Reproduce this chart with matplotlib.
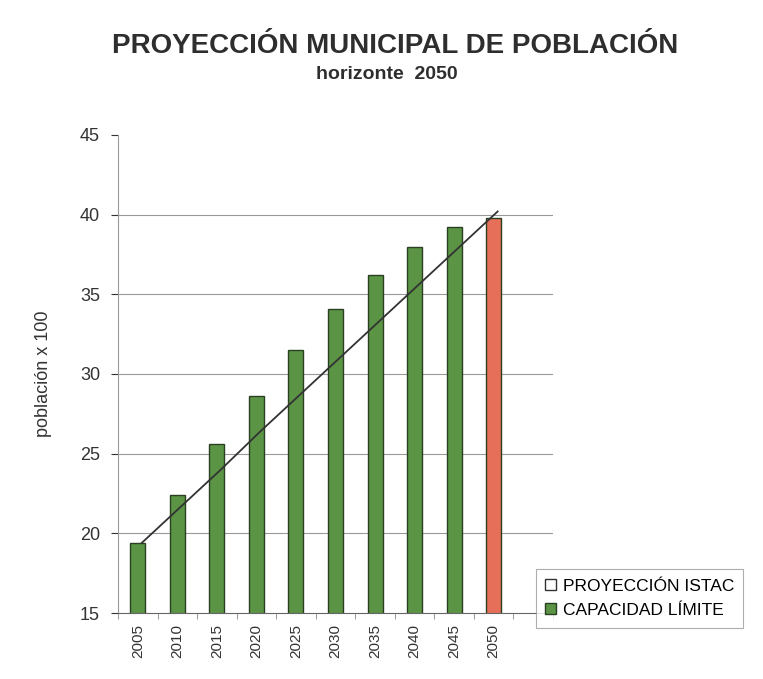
import matplotlib
matplotlib.use("Agg")
import matplotlib.pyplot as plt
from matplotlib.patches import Patch
import numpy as np

plt.rcParams['font.family'] = ['Liberation Sans', 'DejaVu Sans']

years = ["2005", "2010", "2015", "2020", "2025", "2030", "2035", "2040", "2045", "2050"]
capacidad = [19.4, 22.4, 25.6, 28.6, 31.5, 34.1, 36.2, 38.0, 39.2, 39.8]
proyeccion = [19.4, 21.7, 24.0, 26.4, 28.7, 31.0, 33.3, 35.6, 37.9, 40.2]

green = "#5a9444"
red = "#e56f58"
bar_colors = [green] * (len(years) - 1) + [red]

fig = plt.figure(figsize=(7.63, 6.79), dpi=100)
ax = fig.add_axes([0.1547, 0.0972, 0.5701, 0.704])

x = np.arange(len(years))
ax.bar(x, capacidad, width=0.38, bottom=0, color=bar_colors,
       edgecolor="#2b3f22", linewidth=1.0, zorder=2)
ax.plot(x + 0.1, proyeccion, color="#333333", linewidth=1.3, zorder=3)

ax.set_ylim(15, 45)
ax.set_xlim(-0.4, 10.45)
ax.set_yticks(range(15, 46, 5))
ax.tick_params(axis='y', labelsize=13, colors="#333333", length=5,
               direction='out', pad=8)
for v in range(20, 45, 5):
    ax.axhline(v, color="#999999", linewidth=0.8, zorder=1)

ax.set_xticks(x)
ax.set_xticklabels(years, rotation=90, fontsize=11, color="#333333")
ax.tick_params(axis='x', length=0, pad=8)
ax.set_xticks(np.arange(-0.5, 10.6, 1), minor=True)
ax.tick_params(axis='x', which='minor', length=4, color="#888888")

for s in ['top', 'right']:
    ax.spines[s].set_visible(False)
ax.spines['left'].set_color("#999999")
ax.spines['bottom'].set_color("#666666")

ax.set_ylabel("población x 100", fontsize=13, color="#333333", labelpad=20)

fig.text(0.518, 0.932, "PROYECCIÓN MUNICIPAL DE POBLACIÓN", ha='center',
         va='center', fontsize=20, fontweight='bold', color="#2e2e2e")
fig.text(0.507, 0.891, "horizonte  2050", ha='center', va='center',
         fontsize=14, fontweight='bold', color="#2e2e2e")

handles = [Patch(facecolor="white", edgecolor="#333333", label="PROYECCIÓN ISTAC"),
           Patch(facecolor=green, edgecolor="#2b3f22", label="CAPACIDAD LÍMITE")]
leg = fig.legend(handles=handles, loc='upper left', bbox_to_anchor=(0.702, 0.162),
                 fontsize=12.5, frameon=True, fancybox=False, handlelength=0.6,
                 handleheight=0.6, handletextpad=0.4, borderpad=0.55,
                 labelspacing=0.55, borderaxespad=0)
leg.get_frame().set_edgecolor("#999999")
leg.get_frame().set_linewidth(0.8)

fig.savefig("out.png", dpi=100)
